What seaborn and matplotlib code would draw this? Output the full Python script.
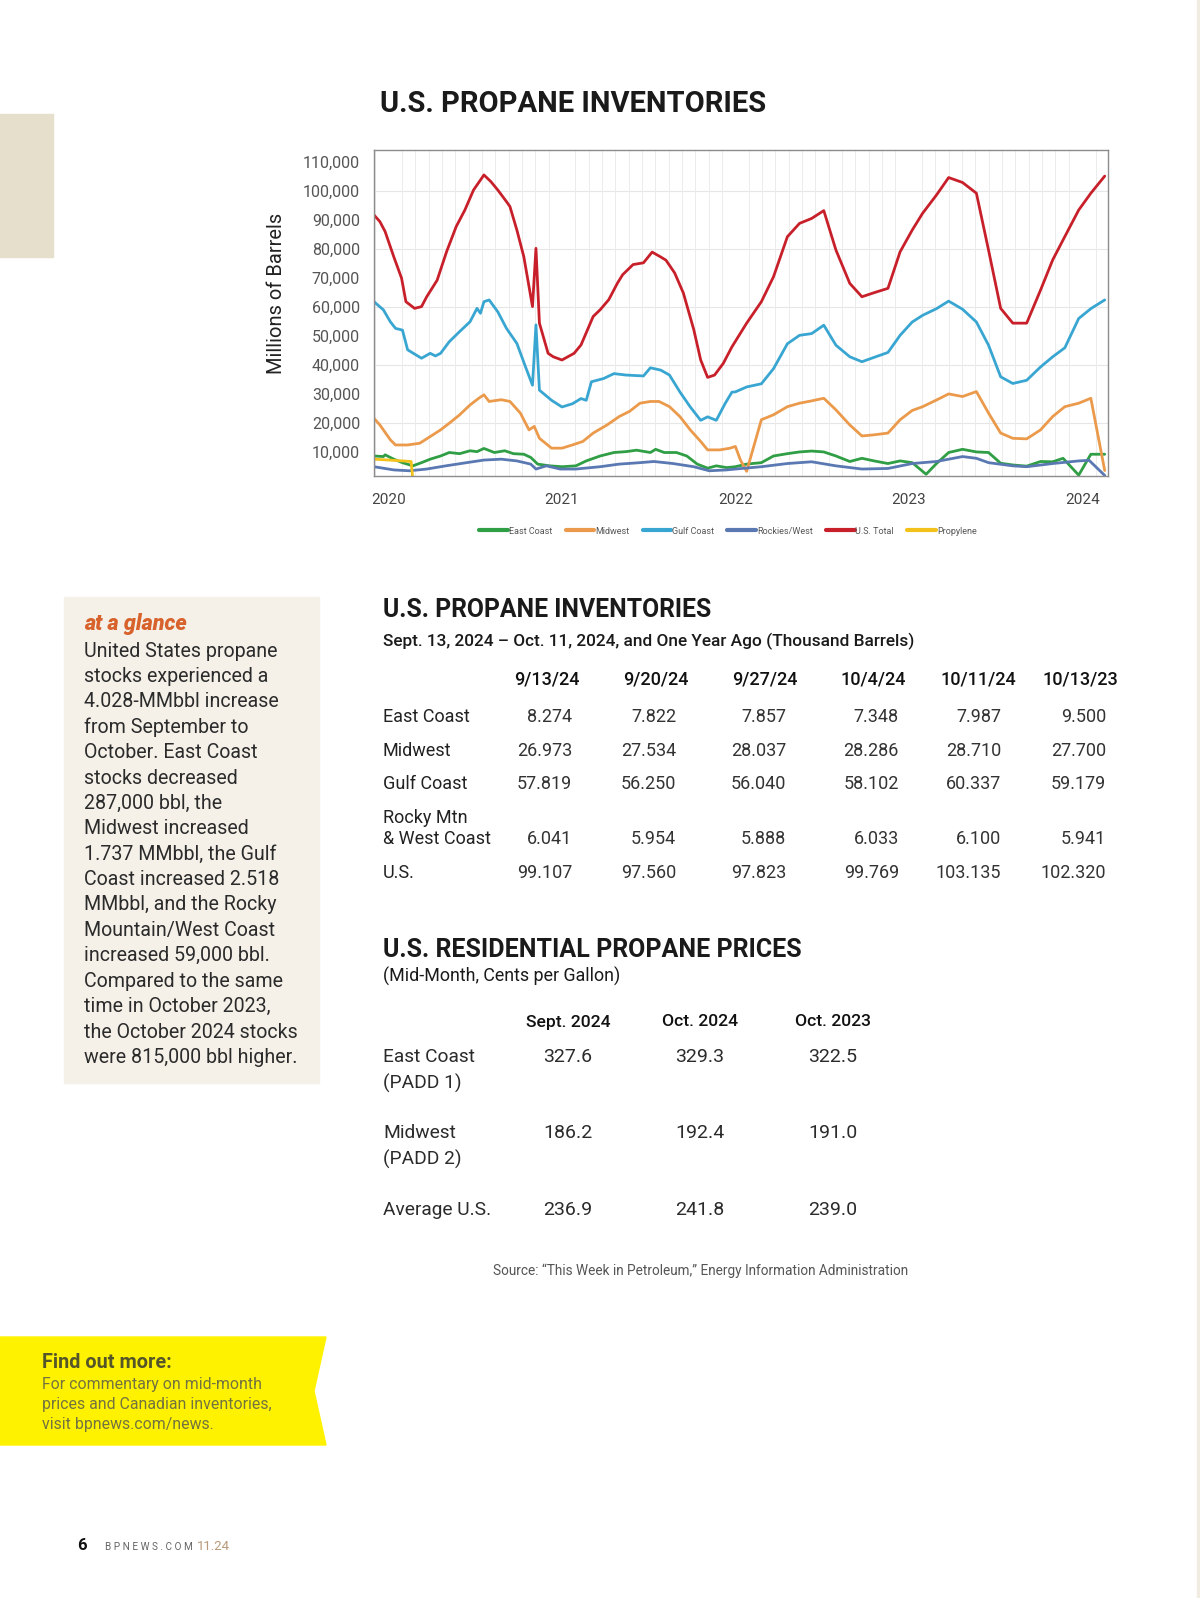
import numpy as np
import pandas as pd
import matplotlib
matplotlib.use('Agg')
import matplotlib.pyplot as plt
import seaborn as sns
from matplotlib.lines import Line2D
from matplotlib.patches import Rectangle, Polygon
from matplotlib.ticker import FuncFormatter, MultipleLocator

# ---- chart data (thousand barrels, x = fractional year) ----
east_x = [2019.916, 2019.97, 2019.98, 2020.03, 2020.08, 2020.14, 2020.19, 2020.24, 2020.30, 2020.35,
          2020.41, 2020.47, 2020.51, 2020.55, 2020.61, 2020.67, 2020.72, 2020.78, 2020.82, 2020.86,
          2020.93, 2021.00, 2021.08, 2021.14, 2021.22, 2021.30, 2021.37, 2021.43, 2021.51, 2021.54,
          2021.59, 2021.66, 2021.72, 2021.78, 2021.84, 2021.89, 2021.95, 2022.00, 2022.065, 2022.15,
          2022.22, 2022.30, 2022.37, 2022.44, 2022.51, 2022.58, 2022.66, 2022.73, 2022.80, 2022.88,
          2022.95, 2023.02, 2023.10, 2023.16, 2023.23, 2023.31, 2023.39, 2023.46, 2023.53, 2023.60,
          2023.68, 2023.76, 2023.83, 2023.89, 2023.98, 2024.05, 2024.13]
east_y = [8.5, 8.3, 8.9, 7.4, 6.2, 5.1, 6.2, 7.4, 8.5, 9.7,
          9.3, 10.3, 10.0, 11.1, 9.7, 10.3, 9.3, 9.1, 8.0, 5.7,
          5.1, 4.8, 5.1, 6.8, 8.5, 9.7, 10.0, 10.5, 9.7, 10.8,
          9.7, 9.7, 8.5, 5.7, 4.3, 5.1, 4.5, 4.8, 5.7, 6.2,
          8.5, 9.3, 9.9, 10.2, 9.9, 8.5, 6.6, 7.7, 6.8, 5.9,
          6.8, 6.2, 2.2, 5.9, 9.7, 10.8, 9.9, 9.7, 6.0, 5.4,
          5.0, 6.6, 6.5, 7.7, 1.9, 9.1, 9.1]

midwest_x = [2019.916, 2019.95, 2020.01, 2020.04, 2020.11, 2020.18, 2020.24, 2020.30, 2020.35, 2020.41,
             2020.47, 2020.52, 2020.55, 2020.58, 2020.65, 2020.70, 2020.76, 2020.81, 2020.84, 2020.87,
             2020.94, 2021.00, 2021.06, 2021.12, 2021.18, 2021.26, 2021.33, 2021.39, 2021.45, 2021.51,
             2021.56, 2021.62, 2021.68, 2021.74, 2021.80, 2021.84, 2021.91, 2021.97, 2022.00, 2022.03,
             2022.065, 2022.15, 2022.22, 2022.30, 2022.37, 2022.44, 2022.51, 2022.58, 2022.66, 2022.73,
             2022.80, 2022.88, 2022.95, 2023.02, 2023.08, 2023.16, 2023.23, 2023.31, 2023.39, 2023.46,
             2023.53, 2023.60, 2023.68, 2023.76, 2023.83, 2023.90, 2023.98, 2024.05, 2024.13]
midwest_y = [21.5, 19.2, 14.1, 12.3, 12.3, 12.9, 15.2, 17.5, 19.8, 22.7,
             26.1, 28.4, 29.6, 27.3, 27.9, 27.3, 23.3, 17.5, 18.7, 14.6,
             11.2, 11.2, 12.3, 13.5, 16.4, 19.2, 22.1, 23.9, 26.7, 27.3,
             27.3, 25.5, 22.1, 17.5, 13.5, 10.6, 10.6, 11.2, 11.8, 7.0,
             3.2, 21.0, 22.7, 25.5, 26.7, 27.5, 28.4, 24.4, 19.2, 15.4,
             15.8, 16.4, 21.0, 24.2, 25.5, 27.8, 29.9, 29.0, 30.7, 23.3,
             16.4, 14.6, 14.4, 17.5, 22.1, 25.5, 26.7, 28.4, 3.5]

gulf_x = [2019.916, 2019.97, 2020.01, 2020.04, 2020.08, 2020.11, 2020.19, 2020.24, 2020.27, 2020.30,
          2020.35, 2020.41, 2020.47, 2020.51, 2020.53, 2020.55, 2020.58, 2020.63, 2020.68, 2020.74,
          2020.79, 2020.83, 2020.85, 2020.87, 2020.94, 2021.00, 2021.06, 2021.11, 2021.14, 2021.17,
          2021.24, 2021.30, 2021.37, 2021.47, 2021.51, 2021.57, 2021.62, 2021.68, 2021.74, 2021.80,
          2021.84, 2021.89, 2021.94, 2021.98, 2022.00, 2022.065, 2022.15, 2022.22, 2022.30, 2022.37,
          2022.44, 2022.51, 2022.58, 2022.66, 2022.73, 2022.80, 2022.88, 2022.95, 2023.02, 2023.08,
          2023.16, 2023.23, 2023.31, 2023.39, 2023.46, 2023.53, 2023.60, 2023.68, 2023.76, 2023.83,
          2023.90, 2023.98, 2024.05, 2024.13]
gulf_y = [61.7, 58.9, 54.8, 52.5, 51.9, 45.1, 42.2, 43.9, 43.0, 43.9,
          47.9, 51.4, 54.8, 59.4, 57.7, 61.7, 62.3, 58.2, 52.5, 47.3,
          39.2, 32.9, 53.7, 31.2, 27.7, 25.4, 26.5, 28.3, 27.7, 34.1,
          35.2, 36.9, 36.4, 36.1, 38.9, 38.1, 36.4, 30.6, 25.4, 20.8,
          22.0, 20.8, 26.5, 30.5, 30.6, 32.3, 33.4, 38.6, 47.2, 50.1,
          50.7, 53.6, 46.7, 42.7, 41.0, 42.5, 44.2, 50.1, 54.7, 57.0,
          59.3, 61.9, 59.1, 54.7, 46.7, 35.8, 33.5, 34.6, 39.2, 42.7,
          45.8, 55.9, 59.3, 62.3]

rockies_x = [2019.916, 2020.03, 2020.12, 2020.22, 2020.33, 2020.45, 2020.55, 2020.65, 2020.74, 2020.82,
             2020.85, 2020.91, 2020.99, 2021.08, 2021.22, 2021.33, 2021.45, 2021.53, 2021.64, 2021.76,
             2021.85, 2021.95, 2022.00, 2022.15, 2022.30, 2022.44, 2022.58, 2022.73, 2022.88, 2023.02,
             2023.16, 2023.31, 2023.39, 2023.46, 2023.60, 2023.68, 2023.83, 2023.98, 2024.04, 2024.13]
rockies_y = [4.8, 3.7, 3.4, 4.0, 5.1, 6.2, 7.1, 7.4, 6.8, 5.7,
             4.0, 5.1, 4.0, 4.0, 4.8, 5.7, 6.2, 6.6, 5.9, 4.8,
             3.4, 3.7, 4.0, 4.8, 5.9, 6.5, 5.1, 4.0, 4.2, 5.9,
             6.6, 8.3, 7.7, 6.2, 5.1, 4.8, 5.9, 6.8, 7.0, 1.8]

total_x = [2019.916, 2019.95, 2019.98, 2020.03, 2020.075, 2020.10, 2020.15, 2020.19, 2020.22, 2020.28,
           2020.335, 2020.39, 2020.44, 2020.49, 2020.55, 2020.59, 2020.63, 2020.68, 2020.70, 2020.74,
           2020.78, 2020.81, 2020.83, 2020.85, 2020.87, 2020.92, 2020.95, 2021.00, 2021.07, 2021.11,
           2021.18, 2021.22, 2021.27, 2021.32, 2021.35, 2021.41, 2021.47, 2021.52, 2021.57, 2021.60,
           2021.65, 2021.70, 2021.76, 2021.80, 2021.84, 2021.88, 2021.93, 2021.98, 2022.065, 2022.15,
           2022.22, 2022.30, 2022.37, 2022.44, 2022.51, 2022.58, 2022.66, 2022.73, 2022.80, 2022.88,
           2022.95, 2023.02, 2023.08, 2023.16, 2023.23, 2023.31, 2023.39, 2023.46, 2023.53, 2023.60,
           2023.68, 2023.76, 2023.83, 2023.91, 2023.98, 2024.05, 2024.13]
total_y = [91.6, 89.3, 85.9, 77.2, 69.8, 61.7, 59.4, 60.0, 63.4, 69.1,
           79.0, 87.6, 93.3, 100.2, 105.4, 103.1, 100.2, 96.2, 94.5, 86.4,
           77.2, 66.9, 60.0, 80.1, 54.3, 43.9, 42.7, 41.6, 43.9, 46.8,
           56.6, 58.9, 62.4, 68.1, 71.0, 74.5, 75.1, 78.8, 77.1, 76.0,
           71.6, 64.7, 52.1, 41.6, 35.6, 36.4, 40.4, 46.1, 54.3, 61.7,
           70.3, 84.1, 88.7, 90.4, 93.1, 79.5, 68.0, 63.4, 64.8, 66.3,
           78.9, 86.4, 92.2, 98.5, 104.5, 102.8, 99.1, 79.5, 59.4, 54.3,
           54.3, 65.7, 76.1, 85.3, 93.3, 99.1, 105.0]

propylene_x = [2019.916, 2020.03, 2020.13, 2020.14]
propylene_y = [7.4, 7.0, 6.6, 0.5]

series_names = ['East Coast', 'Midwest', 'Gulf Coast', 'Rockies/West', 'U.S. Total', 'Propylene']
series_colors = ['#2f9e44', '#eb9a4b', '#39a6d2', '#5a78b2', '#c8202a', '#f2c21b']
year_ticks = [2020, 2021, 2022, 2023, 2024]
stock_ticks = [10, 20, 30, 40, 50, 60, 70, 80, 90, 100, 110]

# ---- table data ----
inv_dates = ['9/13/24', '9/20/24', '9/27/24', '10/4/24', '10/11/24', '10/13/23']
inv_rows = ['East Coast', 'Midwest', 'Gulf Coast', 'Rocky Mtn\n& West Coast', 'U.S.']
inv_east = ['8.274', '7.822', '7.857', '7.348', '7.987', '9.500']
inv_midwest = ['26.973', '27.534', '28.037', '28.286', '28.710', '27.700']
inv_gulf = ['57.819', '56.250', '56.040', '58.102', '60.337', '59.179']
inv_rocky = ['6.041', '5.954', '5.888', '6.033', '6.100', '5.941']
inv_us = ['99.107', '97.560', '97.823', '99.769', '103.135', '102.320']

price_cols = ['Sept. 2024', 'Oct. 2024', 'Oct. 2023']
price_rows = ['East Coast\n(PADD 1)', 'Midwest\n(PADD 2)', 'Average U.S.']
price_east = ['327.6', '329.3', '322.5']
price_midwest = ['186.2', '192.4', '191.0']
price_avg = ['236.9', '241.8', '239.0']

glance_lines = ['United States propane', 'stocks experienced a', '4.028-MMbbl increase',
                'from September to', 'October. East Coast', 'stocks decreased',
                '287,000 bbl, the', 'Midwest increased', '1.737 MMbbl, the Gulf',
                'Coast increased 2.518', 'MMbbl, and the Rocky', 'Mountain/West Coast',
                'increased 59,000 bbl.', 'Compared to the same', 'time in October 2023,',
                'the October 2024 stocks', 'were 815,000 bbl higher.']

sns.set_theme(style='white')
plt.rcParams['font.family'] = ['Roboto', 'DejaVu Sans']
BODY = ['Roboto', 'DejaVu Sans']

W, H = 1200, 1598
fig = plt.figure(figsize=(W / 100, H / 100), dpi=100)
fig.patch.set_facecolor('white')


def fx(x):
    return x / W


def fy(y):
    return 1 - y / H


def txt(x, y, s, **kw):
    kw.setdefault('va', 'center')
    kw.setdefault('family', BODY)
    fig.text(fx(x), fy(y), s, **kw)


# page decorations
fig.add_artist(Rectangle((0, fy(257)), fx(53), (257 - 114) / H, transform=fig.transFigure,
                         color='#e6dfcc', zorder=0))
fig.add_artist(Rectangle((fx(1197), 0), fx(3), 1, transform=fig.transFigure,
                         color='#f1ece1', zorder=0))

# ---- line chart ----
ax = fig.add_axes([fx(374), fy(476), fx(1108 - 374), (476 - 150) / H])
frames = []
for name, xs, ys in zip(series_names,
                        [east_x, midwest_x, gulf_x, rockies_x, total_x, propylene_x],
                        [east_y, midwest_y, gulf_y, rockies_y, total_y, propylene_y]):
    frames.append(pd.DataFrame({'year': xs, 'stock': ys, 'region': name}))
df = pd.concat(frames, ignore_index=True)

palette = dict(zip(series_names, series_colors))
sns.lineplot(data=df, x='year', y='stock', hue='region', hue_order=series_names,
             palette=palette, estimator=None, sort=False, linewidth=2.0, ax=ax, legend=False)

ax.set_xlim(2019.916, 2024.149)
ax.set_ylim(1.6, 114)
ax.set_xticks(year_ticks)
ax.set_yticks(stock_ticks)
ax.yaxis.set_major_formatter(FuncFormatter(lambda v, p: f'{v * 1000:,.0f}'))
ax.xaxis.set_minor_locator(MultipleLocator(1 / 13))
ax.grid(which='minor', axis='x', color='#ececec', linewidth=0.7)
for g in [20, 40, 60, 80, 100]:
    ax.axhline(g, color='#e6e6e6', linewidth=0.8, zorder=0)
ax.set_axisbelow(True)
ax.tick_params(axis='both', which='both', length=0)
ax.tick_params(axis='y', pad=10, labelsize=11.5, labelcolor='#555555')
ax.tick_params(axis='x', pad=12, labelsize=11, labelcolor='#444444')
for s in ax.spines.values():
    s.set_color('#8c8c8c')
    s.set_linewidth(1.0)
ax.set_xlabel('')
ax.set_ylabel('')
txt(277, 293, 'Millions of Barrels', rotation=90, ha='center', fontsize=14.5, color='#222222')

txt(380, 104, 'U.S. PROPANE INVENTORIES', ha='left', fontsize=21, fontweight='bold',
    color='#1a1a1a')

handles = [Line2D([0], [0], color=c, lw=3) for c in series_colors]
fig.legend(handles, series_names, loc='center', bbox_to_anchor=(fx(728), fy(531)), ncol=6,
           frameon=False, fontsize=6.5, handlelength=3.2, handletextpad=0.05,
           columnspacing=1.5, labelcolor='#555555')

# ---- at a glance box ----
fig.add_artist(Rectangle((fx(64), fy(1083)), fx(319 - 64), (1083 - 597) / H,
                         transform=fig.transFigure, color='#f5f1e9', zorder=0))
txt(84, 624, 'at a glance', ha='left', fontsize=15.5, fontweight='heavy', style='italic',
    color='#d8622c')
for i, line in enumerate(glance_lines):
    txt(84, 651 + i * 25.4, line, ha='left', fontsize=14.1, color='#2b2b2b')

# ---- inventories table ----
txt(383, 610, 'U.S. PROPANE INVENTORIES', ha='left', fontsize=17.8, fontweight='bold',
    color='#1a1a1a')
txt(383, 641, 'Sept. 13, 2024 \u2013 Oct. 11, 2024, and One Year Ago (Thousand Barrels)',
    ha='left', fontsize=12.4, color='#1a1a1a', fontweight='medium')
head_x = [547, 656, 765, 873, 978, 1080]
val_right = [572, 676, 786, 899, 1001, 1106]
for hx, d in zip(head_x, inv_dates):
    txt(hx, 679, d, ha='center', fontsize=13, color='#111111', fontweight='medium')
row_y = [717, 751, 784, 839, 873]
for ry, name, vals in zip(row_y, inv_rows, [inv_east, inv_midwest, inv_gulf, inv_rocky, inv_us]):
    parts = name.split('\n')
    for k, part in enumerate(parts):
        txt(383, ry - 21 * (len(parts) - 1 - k), part, ha='left', fontsize=13, color='#222222')
    for vx, v in zip(val_right, vals):
        txt(vx, ry, v, ha='right', fontsize=13, color='#333333')

# ---- prices table ----
txt(383, 950, 'U.S. RESIDENTIAL PROPANE PRICES', ha='left', fontsize=18, fontweight='bold',
    color='#1a1a1a')
txt(383, 976, '(Mid-Month, Cents per Gallon)', ha='left', fontsize=12.9, color='#1a1a1a')
p_x = [568, 700, 833]
for px_, c in zip(p_x, price_cols):
    txt(px_, 1022, c, ha='center', fontsize=12.6, color='#111111', fontweight='medium')
p_y = [1057, 1133, 1210]
for ry, name, vals in zip(p_y, price_rows, [price_east, price_midwest, price_avg]):
    for k, part in enumerate(name.split('\n')):
        txt(383, ry + k * 26, part, ha='left', fontsize=13.8, color='#2b2b2b')
    for px_, v in zip(p_x, vals):
        txt(px_, ry, v, ha='center', fontsize=14, color='#2b2b2b')

txt(701, 1271, 'Source: \u201cThis Week in Petroleum,\u201d Energy Information Administration',
    ha='center', fontsize=9.8, color='#555555')

# ---- yellow banner ----
fig.add_artist(Polygon([(0, fy(1337)), (fx(326), fy(1337)), (fx(314), fy(1391)),
                        (fx(326), fy(1445)), (0, fy(1445))], closed=True,
                       transform=fig.transFigure, color='#fff200', zorder=0))
txt(42, 1362, 'Find out more:', ha='left', fontsize=14.3, fontweight='bold', color='#55552a')
for i, line in enumerate(['For commentary on mid-month', 'prices and Canadian inventories,',
                          'visit bpnews.com/news.']):
    txt(42, 1384 + i * 20.5, line, ha='left', fontsize=11.4, color='#737340')

# ---- footer ----
txt(77, 1546, '6', ha='left', fontsize=12, fontweight='bold', color='#111111')
txt(105, 1547, 'B P N E W S . C O M', ha='left', fontsize=7.2, color='#666666')
txt(197, 1547, '11.24', ha='left', fontsize=9.5, color='#b89a7a')

fig.savefig('out.png', dpi=100)
